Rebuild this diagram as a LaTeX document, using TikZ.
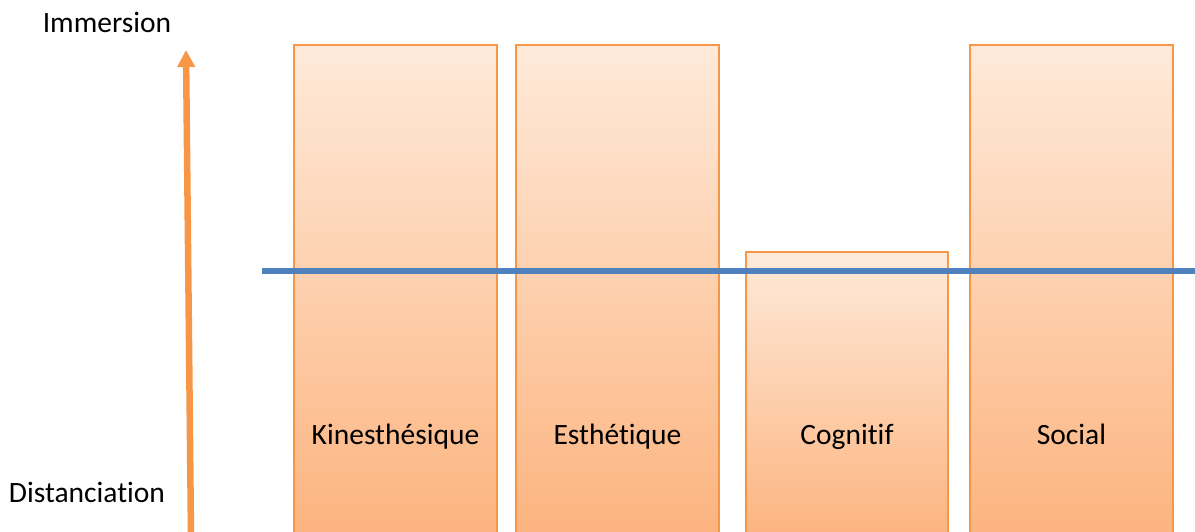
\documentclass[tikz,border=0pt]{standalone}
\usepackage{fontspec}
\setmainfont{Carlito}[Ligatures=CommonOff]
\usepackage{tikz}
\usepackage{xcolor}
\usetikzlibrary{arrows.meta, positioning}
\definecolor{BarEdge}{HTML}{F79646}
\definecolor{BarTop}{HTML}{FEEADA}
\definecolor{BarBottom}{HTML}{FCB37E}
\definecolor{LevelBlue}{HTML}{4F81BD}

\tikzset{
    bar/.style={draw=BarEdge, line width=2.2pt, top color=BarTop, bottom color=BarBottom},
    barlabel/.style={font=\fontsize{29.5}{33}\selectfont, inner sep=0pt, anchor=base},
}

\begin{document}
\begin{tikzpicture}[x=1pt, y=1pt]
    \useasboundingbox (0,0) rectangle (1195,531);
    \clip (0,0) rectangle (1195,531);

    % Axis labels
    \node[barlabel] (immersion) at (107,498) {Immersion};
    \node[barlabel, fill=white, inner sep=4pt] (distanciation) at (87,29) {Distanciation};

    % Vertical axis
    \coordinate (axisbase) at (191,-5);
    \coordinate (axistip) at (186,481);
    \draw[BarEdge, line width=6.5pt, -{Triangle[width=17pt, length=17pt]}] (axisbase) -- (axistip);

    % Bars
    \draw[bar] (294,-10) rectangle (497,486);
    \draw[bar] (516,-10) rectangle (719,486);
    \draw[bar] (746,-10) rectangle (948,279);
    \draw[bar] (970,-10) rectangle (1173,486);

    % Threshold line
    \coordinate (levelstart) at (262,260);
    \coordinate (levelend) at (1200,260);
    \draw[LevelBlue, line width=5.5pt] (levelstart) -- (levelend);

    % Bar labels
    \node[barlabel] (kines) at (395.5,87) {Kinesthésique};
    \node[barlabel] (esth) at (617.5,87) {Esthétique};
    \node[barlabel] (cogn) at (847,87) {Cognitif};
    \node[barlabel] (social) at (1071.5,87) {Social};
\end{tikzpicture}
\end{document}
